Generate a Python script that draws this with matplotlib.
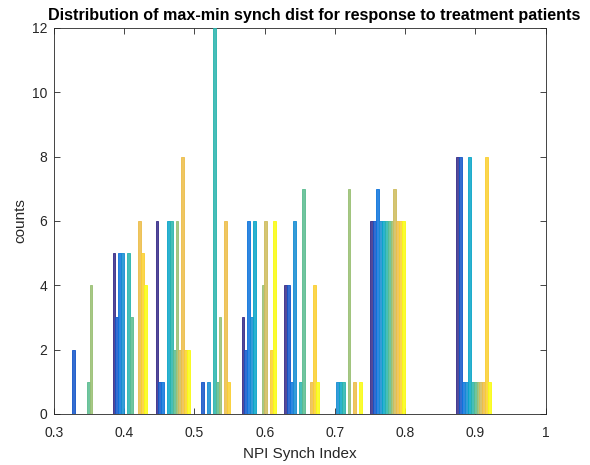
import matplotlib
matplotlib.use("Agg")
import matplotlib.pyplot as plt
import numpy as np
from matplotlib.colors import LinearSegmentedColormap

# bin centres of the 10 histogram bins
bin_centers = [0.3466, 0.4078, 0.4690, 0.5302, 0.5914, 0.6526, 0.7138, 0.7750, 0.8362, 0.8974]

# counts[bin][series]  (12 series per bin)
counts = [
    [0, 2, 0, 0, 0, 0, 1, 4, 0, 0, 0, 0],
    [5, 3, 5, 5, 0, 5, 3, 0, 0, 6, 5, 4],
    [6, 1, 1, 0, 6, 6, 2, 6, 2, 8, 2, 2],
    [0, 1, 0, 1, 0, 12, 1, 3, 0, 6, 1, 0],
    [3, 2, 6, 3, 6, 0, 0, 4, 6, 0, 2, 6],
    [4, 4, 1, 6, 0, 1, 7, 0, 0, 1, 4, 1],
    [0, 0, 0, 1, 1, 1, 0, 7, 0, 1, 0, 1],
    [6, 6, 7, 6, 6, 6, 6, 6, 7, 6, 6, 6],
    [0, 0, 0, 0, 0, 0, 0, 0, 0, 0, 0, 0],
    [8, 8, 1, 1, 8, 1, 1, 1, 1, 1, 8, 1],
]

x_ticks = [0.3, 0.4, 0.5, 0.6, 0.7, 0.8, 0.9, 1.0]
x_labels = ["0.3", "0.4", "0.5", "0.6", "0.7", "0.8", "0.9", "1"]
y_ticks = [0, 2, 4, 6, 8, 10, 12]

# parula-like colormap
parula = LinearSegmentedColormap.from_list(
    "parula", ["#352a87", "#0363e1", "#1485d4", "#06a7c6", "#38b99e",
               "#92bf73", "#d9ba56", "#fbbd3a", "#f9fb0e"])

plt.rcParams["font.family"] = ["Liberation Sans", "DejaVu Sans"]

counts = np.array(counts)
n_series = counts.shape[1]
spacing = bin_centers[1] - bin_centers[0]
group_w = 0.8 * spacing
bw = group_w / n_series

fig = plt.figure(figsize=(5.9, 4.65), dpi=100)
ax = fig.add_axes([0.0915, 0.1097, 0.8335, 0.8301])

for i in range(n_series):
    col = np.array(parula(i / (n_series - 1))[:3])
    face = col + (1 - col) * 0.15
    xs = np.array(bin_centers) - group_w / 2 + (i + 0.5) * bw
    ax.bar(xs, counts[:, i], width=bw, color=face, edgecolor=col,
           linewidth=0.6, zorder=3)

ax.set_xlim(0.3, 1.0)
ax.set_ylim(0, 12)
ax.set_xticks(x_ticks)
ax.set_xticklabels(x_labels)
ax.set_yticks(y_ticks)
ax.tick_params(direction="in", top=True, right=True, length=4, width=0.6,
               labelsize=10, colors="#262626")
ax.tick_params(axis="x", pad=9)
ax.tick_params(axis="y", pad=5)
for s in ax.spines.values():
    s.set_color("#262626")
    s.set_linewidth(0.6)

ax.set_xlabel("NPI Synch Index", fontsize=11, color="#262626", labelpad=5)
ax.set_ylabel("counts", fontsize=11, color="#262626", labelpad=3)
ax.set_title("Distribution of max-min synch dist for response to treatment patients",
             fontsize=11.6, fontweight="bold", x=0.53, pad=6)

plt.savefig("out.png", dpi=100)
